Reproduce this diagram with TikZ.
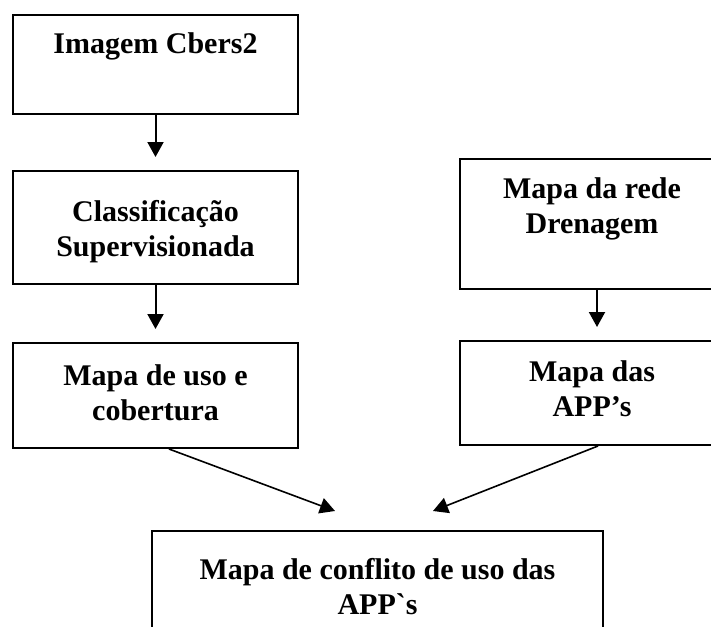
\documentclass[tikz,border=0pt]{standalone}
\usepackage{fontspec}
\setmainfont{Liberation Serif}
\usetikzlibrary{positioning, arrows.meta}

% text of a box, set from the top
\newcommand{\boxtext}[4][10pt]{\parbox[c][#3][t]{#2}{\centering\vspace*{#1}\textbf{#4}}}

\begin{document}
\begin{tikzpicture}[
mybox/.style={rectangle,
  draw,
  line width=1pt,
  inner sep=0pt,
  font=\fontsize{15pt}{17.5pt}\selectfont,
},
myarrow/.style={->,
  line width=1pt,
  shorten >=6.5pt,
},
>={Triangle[length=7.5pt,width=8pt]}
]
\clip (0,0) rectangle (355.5pt,-313pt);
\useasboundingbox (0,0) rectangle (355.5pt,-313pt);

\node[mybox, anchor=north west] (cbers) at (6pt,-7pt)
    {\boxtext[9pt]{142.5pt}{49.5pt}{Imagem Cbers2}};
\node[mybox, below=27.5pt of cbers] (classif)
    {\boxtext[14.5pt]{142.5pt}{56.5pt}{Classificação\\Supervisionada}};
\node[mybox, below=28.5pt of classif] (uso)
    {\boxtext[11pt]{142.5pt}{52.5pt}{Mapa de uso e\\cobertura}};

\node[mybox, anchor=north west] (rede) at (229.5pt,-79pt)
    {\boxtext[9.5pt]{132pt}{65pt}{Mapa da rede\\Drenagem}};
\node[mybox, below=25pt of rede] (app)
    {\boxtext{132pt}{52pt}{Mapa das\\APP’s}};

\node[mybox, anchor=north west] (conflito) at (75.5pt,-265pt)
    {\boxtext[13.5pt]{225.5pt}{65pt}{Mapa de conflito de uso das\\APP\textasciigrave s}};

\coordinate (t1) at ([xshift=92pt, yshift=9.5pt]conflito.north west);
\coordinate (t2) at ([xshift=141pt, yshift=9.5pt]conflito.north west);

\draw[myarrow] (cbers.south) -- (classif.north);
\draw[myarrow] (classif.south) -- (uso.north);
\draw[myarrow] ([xshift=2.5pt]rede.south) -- ([xshift=2.5pt]app.north);

\draw[->,line width=0.8pt] ([xshift=6.75pt]uso.south) -- (t1);
\draw[->,line width=0.8pt] ([xshift=3pt]app.south) -- (t2);
\end{tikzpicture}
\end{document}
